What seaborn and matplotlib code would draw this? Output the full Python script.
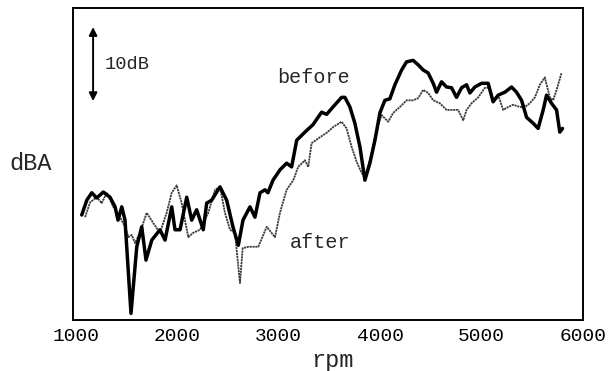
import matplotlib
matplotlib.use("Agg")
import matplotlib.pyplot as plt
import seaborn as sns
import pandas as pd

# Engine noise level versus engine speed, before and after treatment
before_rpm = [1056, 1106, 1155, 1204, 1269, 1335, 1385, 1414, 1451, 1483,
              1542, 1599, 1648, 1690, 1747, 1828, 1878, 1944, 1976, 2026,
              2092, 2141, 2190, 2255, 2289, 2338, 2420, 2486, 2548, 2601,
              2647, 2716, 2765, 2815, 2864, 2893, 2943, 3012, 3078, 3127,
              3177, 3258, 3337, 3423, 3472, 3535, 3620, 3653, 3702, 3751,
              3801, 3850, 3899, 3949, 3998, 4047, 4096, 4146, 4212, 4261,
              4326, 4375, 4425, 4474, 4524, 4557, 4606, 4656, 4705, 4754,
              4804, 4853, 4886, 4935, 5001, 5066, 5115, 5165, 5231, 5297,
              5346, 5396, 5445, 5510, 5559, 5609, 5642, 5691, 5741, 5773,
              5800]
before_dba = [64.2, 66.2, 67.2, 66.5, 67.3, 66.6, 65.3, 63.5, 65.3, 63.5,
              50.9, 59.9, 62.6, 58.1, 60.8, 62.2, 60.8, 65.3, 62.2, 62.2,
              66.6, 63.5, 64.9, 62.2, 65.8, 66.2, 68.0, 66.2, 62.6, 60.1,
              63.5, 65.3, 63.9, 67.2, 67.6, 67.2, 68.9, 70.3, 71.2, 70.7,
              74.3, 75.4, 76.4, 78.1, 77.8, 78.8, 80.1, 80.1, 78.8, 76.6,
              73.4, 68.9, 71.2, 74.3, 78.0, 79.7, 79.9, 81.8, 83.8, 84.9,
              85.1, 84.5, 83.8, 83.4, 82.0, 80.8, 82.2, 81.5, 81.4, 80.1,
              81.4, 81.8, 80.7, 81.5, 82.0, 82.0, 79.5, 80.4, 80.8, 81.5,
              80.8, 79.7, 77.4, 76.6, 75.9, 78.4, 80.4, 79.3, 78.4, 75.4,
              75.9]

after_rpm = [1089, 1138, 1204, 1253, 1303, 1368, 1434, 1483, 1516, 1549,
             1582, 1631, 1697, 1762, 1828, 1894, 1944, 1993, 2042, 2107,
             2157, 2223, 2255, 2305, 2371, 2420, 2469, 2519, 2568, 2617,
             2644, 2699, 2798, 2881, 2963, 3012, 3078, 3143, 3192, 3258,
             3291, 3324, 3406, 3472, 3538, 3620, 3669, 3719, 3768, 3817,
             3850, 3899, 3965, 4015, 4080, 4129, 4195, 4261, 4326, 4375,
             4425, 4474, 4524, 4590, 4656, 4721, 4770, 4820, 4853, 4902,
             4968, 5034, 5083, 5115, 5165, 5214, 5264, 5313, 5379, 5428,
             5477, 5527, 5576, 5625, 5675, 5707, 5741, 5790]
after_dba = [63.9, 65.9, 66.6, 65.8, 67.2, 65.3, 63.9, 62.6, 61.2, 61.5,
             60.4, 61.8, 64.5, 63.1, 61.8, 64.5, 67.2, 68.2, 65.8, 61.2,
             61.8, 62.2, 63.1, 64.5, 67.6, 68.0, 64.5, 62.2, 61.8, 55.0,
             59.7, 59.9, 59.9, 62.6, 61.2, 64.5, 67.6, 68.9, 70.7, 71.6,
             70.7, 73.9, 74.7, 75.3, 76.1, 76.8, 75.9, 73.4, 71.4, 69.9,
             69.3, 71.6, 75.7, 77.7, 76.8, 78.0, 78.8, 79.7, 79.7, 80.0,
             81.1, 80.7, 79.7, 79.3, 78.4, 78.4, 78.4, 77.0, 78.4, 79.3,
             80.1, 81.4, 81.4, 79.7, 80.4, 78.4, 78.8, 79.1, 78.8, 78.8,
             79.3, 80.1, 81.8, 82.8, 80.1, 79.7, 81.1, 83.4]

x_ticks = [1000, 2000, 3000, 4000, 5000, 6000]

sns.set_style("white")
plt.rcParams["font.family"] = ["Liberation Mono", "DejaVu Sans Mono"]

fig = plt.figure(figsize=(6.09, 3.71), dpi=100)
ax = fig.add_axes([0.1194, 0.1375, 0.8376, 0.8405])

df_before = pd.DataFrame({"rpm": before_rpm, "dBA": before_dba})
df_after = pd.DataFrame({"rpm": after_rpm, "dBA": after_dba})

sns.lineplot(data=df_after, x="rpm", y="dBA", ax=ax, color="#3a3a3a",
             linewidth=1.3, linestyle=(0, (1.2, 0.4)))
sns.lineplot(data=df_before, x="rpm", y="dBA", ax=ax, color="black",
             linewidth=2.5)

ax.set_xlim(967, 6000)
ax.set_ylim(50, 92.16)
ax.set_xticks(x_ticks)
ax.set_xticklabels([str(t) for t in x_ticks])
ax.set_yticks([])
ax.tick_params(axis="x", length=0, pad=6, labelsize=14, colors="black")

for side in ax.spines.values():
    side.set_visible(True)
    side.set_color("black")
    side.set_linewidth(1.4)

ax.set_xlabel("rpm", fontsize=17)
ax.xaxis.set_label_coords(0.510, -0.093)
ax.set_ylabel("dBA", fontsize=17, rotation=0, ha="center", va="center")
ax.yaxis.set_label_coords(-0.083, 0.503)

# 10 dB scale marker
ax.annotate("", xy=(1168, 89.6), xytext=(1168, 79.6),
            arrowprops=dict(arrowstyle="<|-|>", color="black", lw=1.4,
                            mutation_scale=12, shrinkA=0, shrinkB=0))
ax.text(1285, 84.6, "10dB", fontsize=13.5, ha="left", va="center")

ax.text(2982, 82.8, "before", fontsize=14.5, ha="left", va="center")
ax.text(3110, 60.5, "after", fontsize=14.5, ha="left", va="center")

fig.savefig("out.png", dpi=100)
